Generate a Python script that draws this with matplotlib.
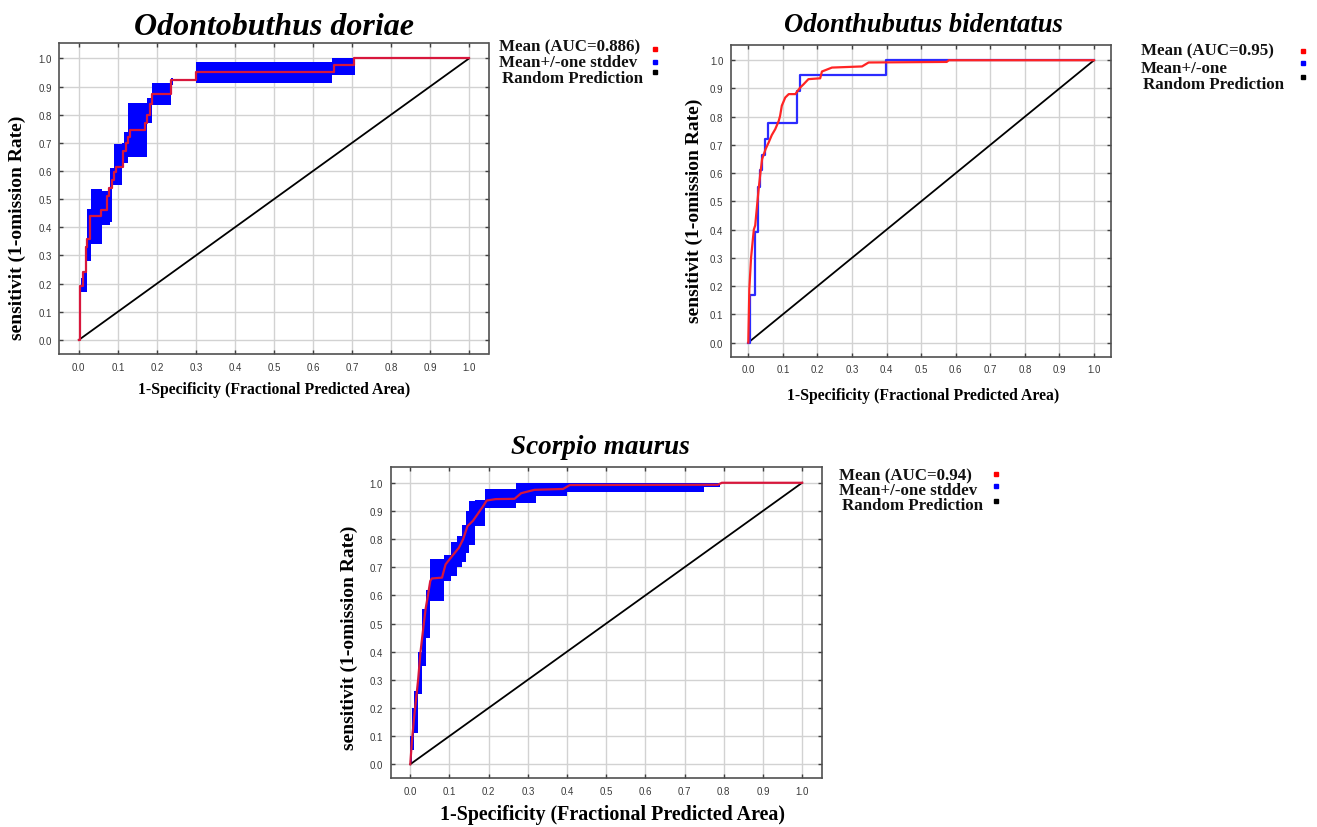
import matplotlib
matplotlib.use("Agg")
import matplotlib.pyplot as plt
from matplotlib.lines import Line2D
import numpy as np

# ---- data ----
# Odontobuthus doriae : mean curve (steps) and +/- one stddev band (steps)
p1_mean_x = [0.0, 0.004, 0.01, 0.018, 0.022, 0.028, 0.058, 0.071, 0.078, 0.084, 0.09, 0.095,
             0.114, 0.12, 0.126, 0.131, 0.169, 0.176, 0.182, 0.188, 0.236, 0.30, 0.655, 0.705, 1.0]
p1_mean_y = [0.0, 0.19, 0.24, 0.33, 0.36, 0.44, 0.46, 0.51, 0.54, 0.57, 0.595, 0.615,
             0.67, 0.70, 0.72, 0.745, 0.77, 0.80, 0.84, 0.875, 0.923, 0.953, 0.976, 1.0, 1.0]
p1_band_x = [0.0, 0.005, 0.012, 0.02, 0.032, 0.06, 0.08, 0.085, 0.09, 0.11, 0.117, 0.126,
             0.174, 0.188, 0.236, 0.242, 0.30, 0.648, 0.707, 1.0]
p1_band_lo = [0.0, 0.17, 0.17, 0.28, 0.34, 0.41, 0.42, 0.55, 0.55, 0.63, 0.63, 0.65,
              0.77, 0.836, 0.905, 0.92, 0.913, 0.94, 0.998, 0.998]
p1_band_hi = [0.06, 0.22, 0.24, 0.465, 0.535, 0.53, 0.61, 0.61, 0.695, 0.70, 0.74, 0.843,
              0.86, 0.914, 0.93, 0.926, 0.987, 1.0, 1.0, 1.0]

# Odonthubutus bidentatus : mean curve (red) and one-stddev curve (blue, steps)
p2_mean_x = [0.0, 0.003, 0.008, 0.016, 0.02, 0.025, 0.03, 0.035, 0.04, 0.05, 0.059, 0.068,
             0.078, 0.088, 0.092, 0.097, 0.107, 0.117, 0.136, 0.15, 0.16, 0.174, 0.208,
             0.213, 0.242, 0.329, 0.348, 0.574, 0.58, 1.0]
p2_mean_y = [0.0, 0.19, 0.30, 0.40, 0.415, 0.48, 0.544, 0.60, 0.65, 0.685, 0.709, 0.735,
             0.756, 0.785, 0.803, 0.839, 0.868, 0.88, 0.88, 0.903, 0.915, 0.933, 0.936,
             0.96, 0.974, 0.978, 0.992, 0.994, 1.0, 1.0]
p2_sd_x = [0.0, 0.005, 0.018, 0.028, 0.033, 0.04, 0.048, 0.057, 0.141, 0.149, 0.397, 1.0]
p2_sd_y = [0.0, 0.17, 0.39, 0.55, 0.61, 0.665, 0.72, 0.778, 0.89, 0.946, 1.0, 1.0]

# Scorpio maurus : mean curve and +/- one stddev band (steps)
p3_mean_x = [0.0, 0.004, 0.01, 0.02, 0.026, 0.032, 0.039, 0.045, 0.051, 0.055, 0.081, 0.09,
             0.107, 0.124, 0.135, 0.146, 0.16, 0.171, 0.185, 0.195, 0.218, 0.266, 0.283,
             0.317, 0.39, 0.407, 0.785, 0.795, 1.0]
p3_mean_y = [0.0, 0.08, 0.17, 0.30, 0.398, 0.47, 0.551, 0.60, 0.651, 0.66, 0.663, 0.71,
             0.74, 0.769, 0.80, 0.846, 0.865, 0.887, 0.915, 0.937, 0.942, 0.943, 0.963,
             0.975, 0.978, 0.992, 0.993, 1.0, 1.0]
p3_band_x = [0.0, 0.004, 0.01, 0.02, 0.03, 0.04, 0.05, 0.085, 0.105, 0.12, 0.133, 0.141,
             0.15, 0.165, 0.19, 0.27, 0.32, 0.40, 0.75, 0.79, 1.0]
p3_band_lo = [0.0, 0.05, 0.11, 0.25, 0.35, 0.45, 0.58, 0.65, 0.67, 0.70, 0.72, 0.75,
              0.78, 0.845, 0.91, 0.928, 0.954, 0.968, 0.985, 1.0, 1.0]
p3_band_hi = [0.10, 0.20, 0.26, 0.40, 0.55, 0.62, 0.73, 0.745, 0.79, 0.81, 0.85, 0.90,
              0.934, 0.94, 0.978, 0.999, 1.0, 1.0, 1.0, 1.0, 1.0]

titles = ["Odontobuthus doriae", "Odonthubutus bidentatus", "Scorpio maurus"]
legends = [["Mean (AUC=0.886)", "Mean+/-one stddev", "Random Prediction"],
           ["Mean (AUC=0.95)", "Mean+/-one", "Random Prediction"],
           ["Mean (AUC=0.94)", "Mean+/-one stddev", "Random Prediction"]]
xlabel = "1-Specificity (Fractional Predicted Area)"
ylabel = "sensitivit (1-omission Rate)"
ticks = np.round(np.arange(0, 1.01, 0.1), 1)

W, H = 1317, 828
SERIF = "Liberation Serif"
SANS = "Liberation Sans"

fig = plt.figure(figsize=(W / 100, H / 100), dpi=100)


def fx(x):
    return x / W


def fy(y):
    return 1 - y / H


def make_axes(left, top, right, bottom):
    ax = fig.add_axes([fx(left), fy(bottom), (right - left) / W, (bottom - top) / H])
    ax.set_xlim(-0.05, 1.05)
    ax.set_ylim(-0.05, 1.055)
    ax.set_xticks(ticks)
    ax.set_yticks(ticks)
    ax.set_xticklabels(["%.1f" % t for t in ticks])
    ax.set_yticklabels(["%.1f" % t for t in ticks])
    ax.grid(True, color="#d2d2d2", lw=1.0)
    ax.set_axisbelow(True)
    ax.tick_params(direction="in", length=3, width=1, color="#404040", top=True, right=True,
                   labelsize=7, labelcolor="#3a3a3a", pad=5.5)
    for lab in ax.get_xticklabels() + ax.get_yticklabels():
        lab.set_family(SANS)
    for s in ax.spines.values():
        s.set_color("#505050")
        s.set_linewidth(1.2)
    ax.plot([0, 1], [0, 1], color="black", lw=1.3, zorder=3)
    return ax


def legend_block(x, ys, labels, sq_x, sq_ys):
    cols = ["#ff0000", "#0000ff", "#000000"]
    for i in range(3):
        xx = x + (2.4 if i == 2 else 0)
        fig.text(fx(xx), fy(ys[i]), labels[i], family=SERIF, weight="bold", fontsize=12.2,
                 ha="left", va="baseline", color="#111111")
        fig.add_artist(Line2D([fx(sq_x)], [fy(sq_ys[i])], marker="s", ms=2.2, color=cols[i],
                              lw=0, transform=fig.transFigure))


# ---- panel 1 ----
ax1 = make_axes(59.3, 44, 488.5, 355)
ax1.fill_between(p1_band_x, p1_band_lo, p1_band_hi, step="post", color="#0000ff", lw=0, zorder=2)
ax1.plot(p1_mean_x, p1_mean_y, drawstyle="steps-post", color="#d8173c", lw=1.6, zorder=4)
fig.text(fx(274), fy(35), titles[0], family=SERIF, weight="bold", style="italic",
         fontsize=23, ha="center", va="baseline")
fig.text(fx(274), fy(390), xlabel, family=SERIF, weight="bold", fontsize=11.3,
         ha="center", va="center")
fig.text(fx(17), fy(228), ylabel, family=SERIF, weight="bold", fontsize=14,
         ha="center", va="center", rotation=90)
legend_block(499.3, [51.7, 67, 83.3], legends[0], 655, [50, 63, 73])

# ---- panel 2 ----
ax2 = make_axes(731, 45.7, 1111.3, 357.7)
ax2.plot(p2_sd_x, p2_sd_y, drawstyle="steps-post", color="#2b2bff", lw=1.6, zorder=4)
ax2.plot(p2_mean_x, p2_mean_y, color="#ff2424", lw=1.6, zorder=5)
fig.text(fx(923), fy(32), titles[1], family=SERIF, weight="bold", style="italic",
         fontsize=19.2, ha="center", va="baseline")
fig.text(fx(923), fy(396), xlabel, family=SERIF, weight="bold", fontsize=11.3,
         ha="center", va="center")
fig.text(fx(694), fy(211), ylabel, family=SERIF, weight="bold", fontsize=14,
         ha="center", va="center", rotation=90)
legend_block(1141, [55.7, 73.3, 89.3], legends[1], 1303, [51.7, 64.3, 78.3])

# ---- panel 3 ----
ax3 = make_axes(390.7, 468.3, 821.7, 779.3)
ax3.fill_between(p3_band_x, p3_band_lo, p3_band_hi, step="post", color="#0000ff", lw=0, zorder=2)
ax3.plot(p3_mean_x, p3_mean_y, color="#d8173c", lw=1.6, zorder=4)
fig.text(fx(600), fy(454), titles[2], family=SERIF, weight="bold", style="italic",
         fontsize=19.5, ha="center", va="baseline")
fig.text(fx(612), fy(815), xlabel, family=SERIF, weight="bold", fontsize=14.4,
         ha="center", va="center")
fig.text(fx(349), fy(638), ylabel, family=SERIF, weight="bold", fontsize=14,
         ha="center", va="center", rotation=90)
legend_block(839.3, [480, 495, 510], legends[2], 996, [475, 487.3, 501.7])

fig.savefig("out.png", dpi=100, facecolor="white")
